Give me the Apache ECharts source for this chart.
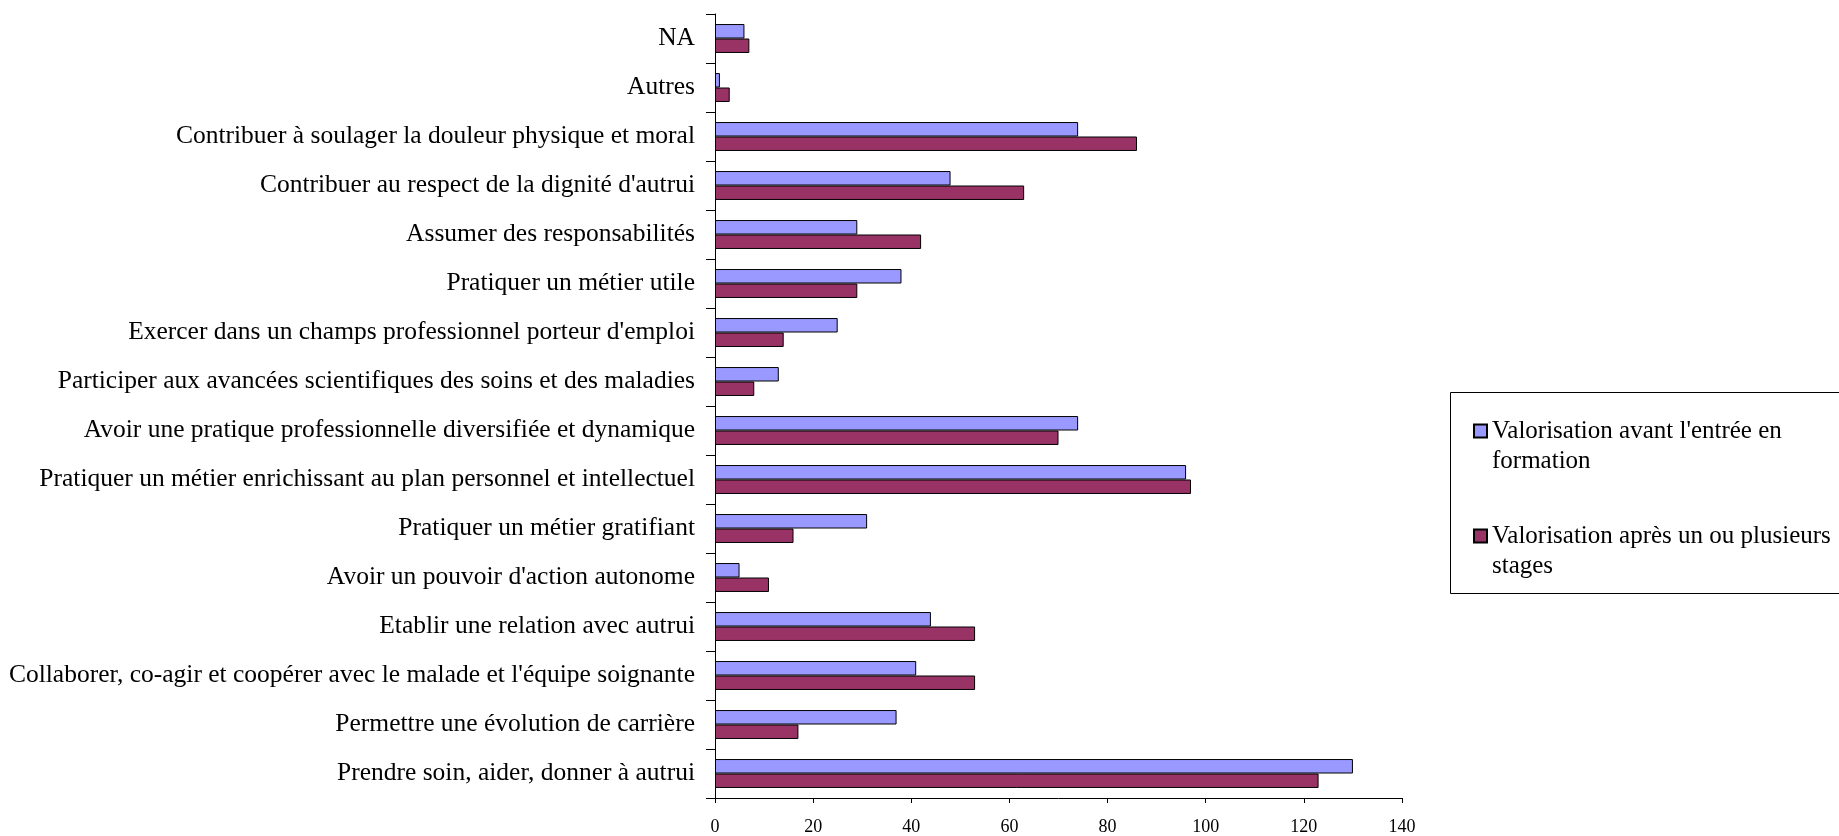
<!DOCTYPE html>
<html>
<head>
<meta charset="utf-8">
<script src="https://cdn.jsdelivr.net/npm/echarts@6/dist/echarts.min.js"></script>
<style>
  html, body { margin: 0; padding: 0; background: #ffffff; }
  #chart { width: 1839px; height: 836px; }
</style>
</head>
<body>
<div id="chart"></div>
<script>
// Categories listed from the bottom of the chart to the top
const categories = [
  "Prendre soin, aider, donner à autrui",
  "Permettre une évolution de carrière",
  "Collaborer, co-agir et coopérer avec le malade et l'équipe soignante",
  "Etablir une relation avec autrui",
  "Avoir un pouvoir d'action autonome",
  "Pratiquer un métier gratifiant",
  "Pratiquer un métier enrichissant au plan personnel et intellectuel",
  "Avoir une pratique professionnelle diversifiée et dynamique",
  "Participer aux avancées scientifiques des soins et des maladies",
  "Exercer dans un champs professionnel porteur d'emploi",
  "Pratiquer un métier utile",
  "Assumer des responsabilités",
  "Contribuer au respect de la dignité d'autrui",
  "Contribuer à soulager la douleur physique et moral",
  "Autres",
  "NA"
];

const nameAvant = "Valorisation avant l'entrée en formation";
const nameApres = "Valorisation après un ou plusieurs stages";

const valuesAvant = [130, 37, 41, 44, 5, 31, 96, 74, 13, 25, 38, 29, 48, 74, 1, 6];
const valuesApres = [123, 17, 53, 53, 11, 16, 97, 70, 8, 14, 29, 42, 63, 86, 3, 7];

// Legend labels wrapped onto two lines; the leading empty line keeps the
// swatch level with the first line of text
const legendLabels = {};
legendLabels[nameAvant] = "\nValorisation avant l'entrée en\nformation";
legendLabels[nameApres] = "\nValorisation après un ou plusieurs\nstages";

const FONT = "'Liberation Serif', 'Times New Roman', serif";

const chart = echarts.init(document.getElementById('chart'), null, { renderer: 'canvas' });

const gridLeft = 715, gridTop = 14, gridWidth = 687, gridHeight = 786;

chart.setOption({
  animation: false,
  backgroundColor: '#ffffff',
  textStyle: { fontFamily: FONT },
  grid: { left: gridLeft, top: gridTop, width: gridWidth, height: gridHeight, containLabel: false },
  xAxis: {
    type: 'value',
    min: 0,
    max: 140,
    interval: 20,
    splitLine: { show: false },
    axisLine: { show: true, lineStyle: { color: '#000000', width: 1 } },
    axisTick: { show: true, length: 5, lineStyle: { color: '#000000' } },
    axisLabel: { color: '#000000', fontSize: 18, fontFamily: FONT, margin: 20 }
  },
  yAxis: {
    type: 'category',
    data: categories,
    axisLine: { show: true, lineStyle: { color: '#000000', width: 1 } },
    axisTick: { show: true, length: 9, lineStyle: { color: '#000000' } },
    axisLabel: { color: '#000000', fontSize: 25.5, fontFamily: FONT, margin: 20 },
    splitLine: { show: false }
  },
  legend: {
    orient: 'vertical',
    left: 1473,
    top: 386,
    padding: 0,
    itemGap: 15,
    itemWidth: 13,
    itemHeight: 13,
    icon: 'rect',
    data: [nameAvant, nameApres],
    formatter: function (name) { return legendLabels[name]; },
    textStyle: {
      color: '#000000',
      fontSize: 25,
      fontFamily: FONT,
      lineHeight: 30
    }
  },
  graphic: [{
    type: 'rect',
    left: 1448,
    top: 390,
    shape: { width: 400, height: 201 },
    style: { fill: 'none', stroke: '#000000', lineWidth: 1 },
    silent: true
  }],
  series: [
    {
      name: nameAvant,
      type: 'bar',
      data: valuesAvant,
      barGap: '0%',
      barCategoryGap: '41%',
      itemStyle: { color: '#9999FF', borderColor: '#000000', borderWidth: 1 }
    },
    {
      name: nameApres,
      type: 'bar',
      data: valuesApres,
      barGap: '0%',
      barCategoryGap: '41%',
      itemStyle: { color: '#993366', borderColor: '#000000', borderWidth: 1 }
    }
  ]
});
</script>
</body>
</html>
